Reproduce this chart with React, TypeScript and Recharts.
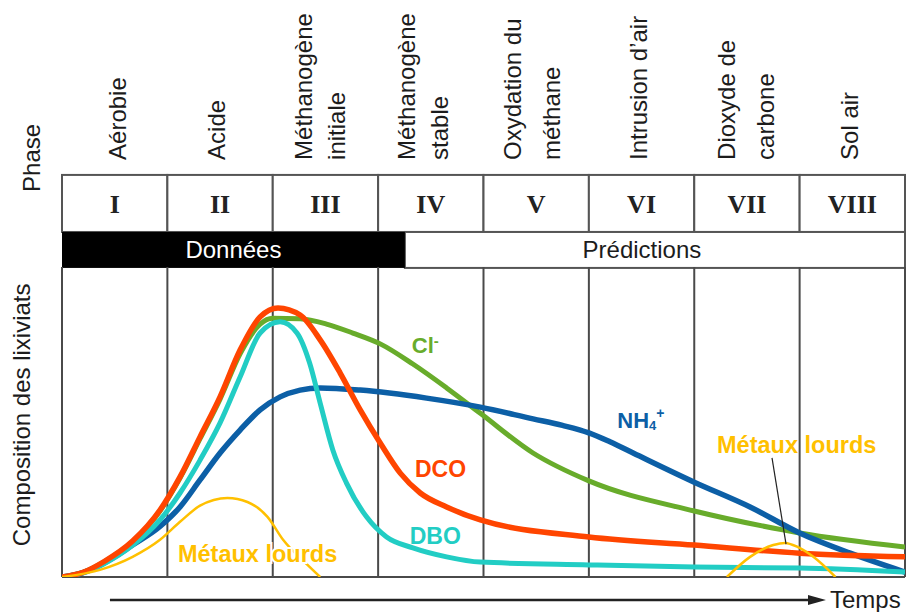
import React from 'react';
import { LineChart, Line, XAxis, YAxis, ReferenceLine, ReferenceArea, ReferenceDot } from 'recharts';

// ---------- categories / labels ----------
const PHASE_NUMERALS = ['I', 'II', 'III', 'IV', 'V', 'VI', 'VII', 'VIII'];
const PHASE_NAMES = [
  ['Aérobie'],
  ['Acide'],
  ['Méthanogène', 'initiale'],
  ['Méthanogène', 'stable'],
  ['Oxydation du', 'méthane'],
  ['Intrusion d’air'],
  ['Dioxyde de', 'carbone'],
  ['Sol air'],
];
const DATA_LABEL = 'Données';
const PRED_LABEL = 'Prédictions';
const DATA_END = 3.254; // end of measured data (phase units)

// ---------- series values: [time (phase units), relative composition] ----------
const DCO = [
  [0, 0], [0.2, 1.5], [0.4, 5.0], [0.67, 11.6], [0.93, 21.6], [1.12, 32.3], [1.31, 45.2], [1.5, 58.1],
  [1.69, 73.2], [1.88, 83.9], [2.05, 86.8], [2.26, 84.5], [2.45, 76.5], [2.64, 65.8],
  [2.83, 53.9], [3.02, 43.2], [3.21, 33.5], [3.4, 27.1], [3.65, 22.6], [3.97, 18.4],
  [5.0, 12.9], [6.0, 10.3], [7.0, 7.7], [8.0, 6.5],
];
const DBO = [
  [0, 0], [0.2, 1.3], [0.4, 4.3], [0.67, 10.2], [0.93, 18.4], [1.12, 27.1], [1.31, 37.7], [1.5, 49.7],
  [1.69, 64.5], [1.88, 78.7], [2.07, 82.3], [2.23, 78.7], [2.35, 69.0], [2.45, 56.1],
  [2.57, 41.0], [2.7, 30.3], [2.89, 19.4], [3.08, 12.9], [3.33, 9.4], [3.65, 6.5],
  [3.97, 4.8], [5.0, 3.9], [6.0, 3.2], [7.0, 2.9], [8.0, 1.6],
];
const CL = [
  [0, 0], [0.2, 1.5], [0.4, 4.9], [0.67, 11.4], [0.93, 21.3], [1.12, 31.9], [1.31, 44.6], [1.5, 57.4],
  [1.69, 72.0], [1.88, 81.6], [2.0, 83.5], [2.26, 83.3], [2.51, 81.6], [2.76, 78.7],
  [3.02, 75.2], [3.33, 68.7], [3.65, 61.0], [3.97, 52.8], [4.47, 40.0], [5.0, 31.0],
  [6.0, 21.3], [6.84, 15.2], [7.0, 14.2], [8.0, 9.7],
];
const NH4 = [
  [0, 0], [0.2, 1.4], [0.4, 4.5], [0.67, 10.3], [0.93, 16.3], [1.12, 22.6], [1.31, 31.3], [1.5, 40.0],
  [1.69, 47.4], [1.88, 53.9], [2.07, 58.1], [2.26, 60.3], [2.45, 61.0], [2.83, 60.3],
  [3.46, 57.7], [3.97, 54.8], [4.47, 51.0], [4.75, 48.9], [5.0, 46.5], [5.2, 43.6], [5.42, 40.0], [6.0, 30.6],
  [6.53, 22.6], [7.0, 14.2], [7.48, 7.7], [8.0, 1.6],
];
const METAUX = [
  [0, 0], [0.36, 2.3], [0.67, 6.5], [0.93, 12.0], [1.12, 17.8], [1.31, 23.0], [1.57, 25.5],
  [1.76, 24.2], [1.95, 19.4], [2.1, 11.9], [2.33, 3.9], [2.45, 0],
  [4.5, null],
  [6.31, 0], [6.53, 6.5], [6.75, 10.3], [6.86, 11.0], [6.98, 9.7], [7.13, 6.5], [7.34, 0],
];

const toRows = (arr: (number | null)[][]) => arr.map(([t, v]) => ({ t, v }));

// ---------- styling ----------
const FONT = '"Liberation Sans", Arial, sans-serif';
const SERIF = '"Liberation Serif", "Times New Roman", serif';
const TXT = '#1c1c1c';
const GRID = '#4a4a4a';
const C_DCO = '#ff4500';
const C_DBO = '#22cdc4';
const C_CL = '#68ac2b';
const C_NH4 = '#0c5fa6';
const C_MET = '#ffc000';

// header geometry (value units of the y axis, above the plot)
const Y_TABLE_TOP = 129.7;
const Y_ROW_BOTTOM = 111.3;
const Y_BAR_BOTTOM = 99.7;

// baseline offsets (px) of the rotated phase-name lines from each column's left edge
const NAME_OFFSETS = [[64], [57.6], [39.7, 72.7], [36.4, 69.4], [37.0, 76.0], [58.6], [41.2, 80.2], [57.9]];

const headerCell = (i: number) => (p: any) => {
  const { x, y, width, height } = p;
  return (
    <g>
      <rect x={x} y={y} width={width} height={height} fill="#fff" stroke="#555" strokeWidth={2} />
      <text x={x + width / 2} y={y + 38} textAnchor="middle" fontFamily={SERIF} fontWeight="bold" fontSize={26} fill="#222">
        {PHASE_NUMERALS[i]}
      </text>
      {PHASE_NAMES[i].map((line, k) => (
        <text key={k} transform={`translate(${x + NAME_OFFSETS[i][k]},${y - 15}) rotate(-90)`} textAnchor="start" fontFamily={FONT} fontSize={24} fill={TXT}>
          {line}
        </text>
      ))}
    </g>
  );
};

const barShape = (fill: string, label: string, color: string, dx: number) => (p: any) => {
  const { x, y, width, height } = p;
  const dark = fill === '#000';
  return (
    <g>
      <rect x={x} y={y} width={width} height={height} fill={fill} stroke={dark ? '#000' : '#555'} strokeWidth={dark ? 0 : 2} />
      <text x={x + width / 2 + dx} y={y + height / 2 + 8.5} textAnchor="middle" fontFamily={FONT} fontSize={24} fill={color}>
        {label}
      </text>
    </g>
  );
};

const textShape = (render: (cx: number, cy: number) => React.ReactNode) => (p: any) => <g>{render(p.cx, p.cy)}</g>;

const bold = { fontFamily: FONT, fontWeight: 'bold' as const };

export default function App() {
  return (
    <div style={{ position: 'absolute', left: 0, top: 0, background: '#fff' }}>
      <LineChart width={906} height={612} margin={{ top: 267, right: 1, bottom: 35, left: 62 }}>
        <XAxis dataKey="t" type="number" domain={[0, 8]} hide allowDataOverflow />
        <YAxis type="number" domain={[0, 100]} hide allowDataOverflow />

        {/* header table */}
        {PHASE_NUMERALS.map((_, i) => (
          <ReferenceArea key={'h' + i} x1={i} x2={i + 1} y1={Y_ROW_BOTTOM} y2={Y_TABLE_TOP} ifOverflow="visible" shape={headerCell(i)} />
        ))}
        <ReferenceArea x1={DATA_END} x2={8} y1={Y_BAR_BOTTOM} y2={Y_ROW_BOTTOM} ifOverflow="visible" shape={barShape('#fff', PRED_LABEL, TXT, -13)} />
        <ReferenceArea x1={0} x2={DATA_END} y1={Y_BAR_BOTTOM} y2={Y_ROW_BOTTOM} ifOverflow="visible" shape={barShape('#000', DATA_LABEL, '#fff', 0)} />

        {/* phase dividers and frame */}
        {[0, 1, 2, 3, 4, 5, 6, 7, 8].map((x) => (
          <ReferenceLine key={'v' + x} x={x} stroke={GRID} strokeWidth={2} ifOverflow="visible" />
        ))}
        <ReferenceLine y={0} stroke={GRID} strokeWidth={2} ifOverflow="visible" />

        {/* axis titles */}
        <ReferenceDot x={-0.308} y={52.3} r={0} ifOverflow="visible" shape={textShape((cx, cy) => (
          <text transform={`translate(${cx},${cy}) rotate(-90)`} textAnchor="middle" fontFamily={FONT} fontSize={24} fill={TXT}>Composition des lixiviats</text>
        ))} />
        <ReferenceDot x={-0.209} y={124.2} r={0} ifOverflow="visible" shape={textShape((cx, cy) => (
          <text transform={`translate(${cx},${cy}) rotate(-90)`} textAnchor="start" fontFamily={FONT} fontSize={24} fill={TXT}>Phase</text>
        ))} />
        <ReferenceLine segment={[{ x: 0.455, y: -7.42 }, { x: 7.15, y: -7.42 }]} stroke="#222" strokeWidth={2.5} ifOverflow="visible" />
        <ReferenceDot x={7.25} y={-7.42} r={0} ifOverflow="visible" shape={textShape((cx, cy) => (
          <g>
            <polygon points={`${cx - 18},${cy - 5} ${cx},${cy} ${cx - 18},${cy + 5}`} fill="#222" />
            <text x={cx + 4} y={cy + 8} fontFamily={FONT} fontSize={24} fill={TXT}>Temps</text>
          </g>
        ))} />

        {/* series */}
        <Line data={toRows(CL)} dataKey="v" type="monotone" stroke={C_CL} strokeWidth={5} dot={false} activeDot={false} isAnimationActive={false} />
        <Line data={toRows(NH4)} dataKey="v" type="monotone" stroke={C_NH4} strokeWidth={5.5} dot={false} activeDot={false} isAnimationActive={false} />
        <Line data={toRows(DBO)} dataKey="v" type="monotone" stroke={C_DBO} strokeWidth={5} dot={false} activeDot={false} isAnimationActive={false} />
        <Line data={toRows(DCO)} dataKey="v" type="monotone" stroke={C_DCO} strokeWidth={5.5} dot={false} activeDot={false} isAnimationActive={false} />
        <Line data={toRows(METAUX)} dataKey="v" type="monotone" stroke={C_MET} strokeWidth={2.5} dot={false} activeDot={false} connectNulls={false} isAnimationActive={false} />

        {/* series labels */}
        <ReferenceLine segment={[{ x: 6.738, y: 38.4 }, { x: 6.871, y: 10.6 }]} stroke="#222" strokeWidth={1.2} ifOverflow="visible" />
        <ReferenceDot x={3.32} y={72.3} r={0} ifOverflow="visible" shape={textShape((cx, cy) => (
          <text x={cx} y={cy} {...bold} fontSize={22} fill={C_CL}>Cl<tspan fontSize={15} dy={-7}>-</tspan></text>
        ))} />
        <ReferenceDot x={3.35} y={32.3} r={0} ifOverflow="visible" shape={textShape((cx, cy) => (
          <text x={cx} y={cy} {...bold} fontSize={23} fill={C_DCO}>DCO</text>
        ))} />
        <ReferenceDot x={3.3} y={10.6} r={0} ifOverflow="visible" shape={textShape((cx, cy) => (
          <text x={cx} y={cy} {...bold} fontSize={23} fill={C_DBO}>DBO</text>
        ))} />
        <ReferenceDot x={5.27} y={48.1} r={0} ifOverflow="visible" shape={textShape((cx, cy) => (
          <text x={cx} y={cy} {...bold} fontSize={22} fill={C_NH4}>NH<tspan fontSize={13} dy={2}>4</tspan><tspan fontSize={14} dy={-12}>+</tspan></text>
        ))} />
        <ReferenceDot x={1.1} y={4.8} r={0} ifOverflow="visible" shape={textShape((cx, cy) => (
          <text x={cx} y={cy} {...bold} fontSize={23.5} fill={C_MET} stroke="#fff" strokeWidth={4} paintOrder="stroke">Métaux lourds</text>
        ))} />
        <ReferenceDot x={6.216} y={40} r={0} ifOverflow="visible" shape={textShape((cx, cy) => (
          <text x={cx} y={cy} {...bold} fontSize={23.5} fill={C_MET}>Métaux lourds</text>
        ))} />
      </LineChart>
    </div>
  );
}
